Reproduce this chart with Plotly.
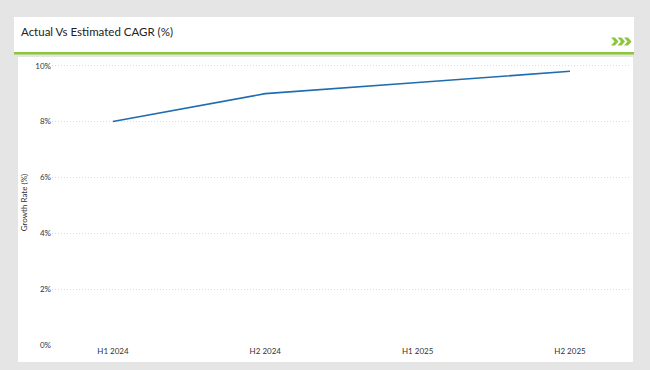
import plotly.graph_objects as go

periods = ["H1 2024", "H2 2024", "H1 2025", "H2 2025"]
growth = [8.0, 9.0, 9.4, 9.8]
y_ticks = [0, 2, 4, 6, 8, 10]
y_tick_labels = ["0%", "2%", "4%", "6%", "8%", "10%"]

W, H = 650, 370
L, R, T, B = 52, 20, 60, 25
pw, ph = W - L - R, H - T - B

def px(x):
    return (x - L) / pw

def py(y):
    return (H - B - y) / ph

fig = go.Figure()
fig.add_trace(go.Scatter(
    x=periods, y=growth, mode="lines",
    line=dict(color="#1f6db0", width=1.6),
    hoverinfo="skip", showlegend=False,
))

shapes = [
    dict(type="rect", xref="paper", yref="paper", x0=px(14), x1=px(634), y0=py(17), y1=py(52),
         fillcolor="white", line=dict(width=0), layer="below"),
    dict(type="rect", xref="paper", yref="paper", x0=px(14), x1=px(634), y0=py(52), y1=py(54.5),
         fillcolor="#8cc63e", line=dict(width=0), layer="below"),
    dict(type="rect", xref="paper", yref="paper", x0=px(18), x1=px(633), y0=py(57), y1=py(362),
         fillcolor="white", line=dict(width=0), layer="below"),
]
for i in range(3):
    x0 = 611 + i * 6.5
    path = (f"M {px(x0)} {py(37.5)} L {px(x0+4)} {py(37.5)} L {px(x0+7.5)} {py(41.5)} "
            f"L {px(x0+4)} {py(45.5)} L {px(x0)} {py(45.5)} L {px(x0+3.5)} {py(41.5)} Z")
    shapes.append(dict(type="path", xref="paper", yref="paper", path=path,
                       fillcolor="#8cc63e", line=dict(width=0)))

fig.update_layout(
    width=W, height=H,
    margin=dict(l=L, r=R, t=T, b=B),
    paper_bgcolor="#e5e5e5",
    plot_bgcolor="rgba(0,0,0,0)",
    shapes=shapes,
    font=dict(family="Lato, Open Sans, sans-serif", color="#444"),
    annotations=[
        dict(text="Actual Vs Estimated CAGR (%)", xref="paper", yref="paper",
             x=px(18.5), y=py(32), xanchor="left", yanchor="middle", showarrow=False,
             font=dict(size=11.5, color="#222")),
    ],
    xaxis=dict(
        type="category", range=[-0.40, 3.394], showgrid=False, zeroline=False,
        showline=False, ticks="", tickfont=dict(size=8, color="#333"), ticklabelstandoff=0,
    ),
    yaxis=dict(
        range=[0, (H - B - T) / 27.93], tickvals=y_ticks, ticktext=y_tick_labels,
        showgrid=True, gridcolor="#dcdcdc", griddash="1px,2px", gridwidth=1,
        zeroline=False, showline=False, ticks="", tickfont=dict(size=8, color="#333"),
        title=dict(text="Growth Rate (%)", font=dict(size=8, color="#333"), standoff=6),
    ),
)

fig.write_html(
    "out.html",
    config={"displayModeBar": False},
    post_script="document.body.style.margin='0';document.body.style.background='#e5e5e5';",
)
